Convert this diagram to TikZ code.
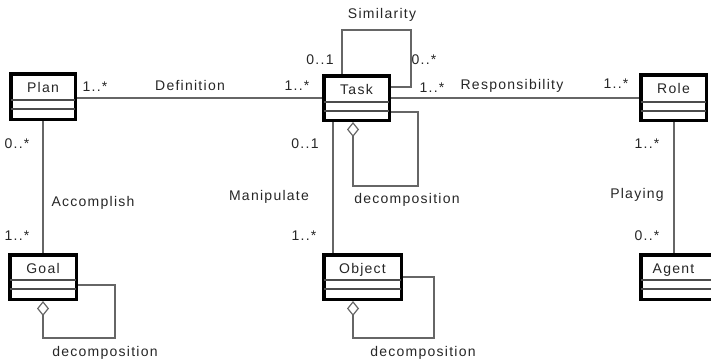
\documentclass[tikz,border=0pt]{standalone}
\usepackage{fontspec}
\setmainfont{Liberation Sans}[LetterSpace=9]
\usetikzlibrary{arrows.meta,calc}
\tikzset{
  cls/.style={draw=black, line width=3.5pt, fill=white, inner sep=0pt, outer sep=1.75pt},
  lnk/.style={draw=black!60, line width=1.3pt},
  div/.style={draw=black!70, line width=1.2pt, shorten >=1.75pt, shorten <=1.75pt},
  lbl/.style={inner sep=0pt, text height=10pt, text depth=0pt, text=black!85, font=\fontsize{14}{16}\selectfont},
  agg/.style={{Diamond[open,length=15pt,width=12pt,line width=1.2pt]}-},
}
\newcommand\umldiv[2]{%
  \draw[div] ($(#1.north west)+(0,#2)$) -- ($(#1.north east)+(0,#2)$);}
\begin{document}
\begin{tikzpicture}[x=1pt,y=-1pt]
\useasboundingbox (0,0) rectangle (711,361);
% classes
\node[cls, minimum width=64.5pt, minimum height=45.5pt] (plan) at (43,96.5) {};
\node[cls, minimum width=65.5pt, minimum height=44.5pt] (task) at (356.5,98) {};
\node[cls, minimum width=65.5pt, minimum height=45.5pt] (role) at (673.5,97.5) {};
\node[cls, minimum width=66.5pt, minimum height=44.5pt] (goal) at (43,277) {};
\node[cls, minimum width=77.5pt, minimum height=44.5pt] (object) at (362.5,277) {};
\node[cls, minimum width=73.5pt, minimum height=44.5pt] (agent) at (677.5,277) {};
\foreach \n/\a/\b in {plan/28/37, task/28/37, role/29/38, goal/27/36, object/27/36, agent/27/36}{
  \umldiv{\n}{\a}\umldiv{\n}{\b}}
\node[lbl] (plan-t) at ($(plan.north)+(0,15.5)$) {Plan};
\node[lbl] (task-t) at ($(task.north)+(0,15.5)$) {Task};
\node[lbl] (role-t) at ($(role.north)+(0,15.5)$) {Role};
\node[lbl] (goal-t) at ($(goal.north)+(0,15)$) {Goal};
\node[lbl] (object-t) at ($(object.north)+(0,15)$) {Object};
\node[lbl] (agent-t) at ($(agent.north)+(-4,15)$) {Agent};
% associations
\draw[lnk] (plan.east |- task.west) -- (task.west);
\draw[lnk] (task.east) -- (role.west |- task.east);
\draw[lnk] (plan.south) -- (goal.north);
\draw[lnk] (task.south -| 333,0) -- (object.north -| 333,0);
\draw[lnk] (role.south -| 674,0) -- (agent.north -| 674,0);
% self loops
\draw[lnk] (task.north -| 342,0) |- (411,30) |- (task.east |- 0,87);
\draw[lnk,agg] (task.south -| 353,0) -- (353,186) -| (418,112) -- (task.east |- 0,112);
\draw[lnk,agg] (goal.south) -- (43,338) -| (115,285) -- (goal.east |- 0,285);
\draw[lnk,agg] (object.south -| 353,0) -- (353,338) -| (434,277) -- (object.east |- 0,277);
% labels
\node[lbl] (l-sim) at (382,14) {Similarity};
\node[lbl] (l-s1) at (320,59) {0..1};
\node[lbl] (l-s2) at (424,59) {0..*};
\node[lbl] (l-s3) at (432,87) {1..*};
\node[lbl] (l-d1) at (95,86) {1..*};
\node[lbl] (l-def) at (190,85) {Definition};
\node[lbl] (l-d2) at (297,85) {1..*};
\node[lbl] (l-resp) at (512,84) {Responsibility};
\node[lbl] (l-r2) at (616,83) {1..*};
\node[lbl] (l-a1) at (17,143) {0..*};
\node[lbl] (l-acc) at (93,201) {Accomplish};
\node[lbl] (l-a2) at (17,235) {1..*};
\node[lbl] (l-m1) at (305,143) {0..1};
\node[lbl] (l-man) at (269,195) {Manipulate};
\node[lbl] (l-m2) at (304,235) {1..*};
\node[lbl] (l-p1) at (647,143) {1..*};
\node[lbl] (l-pl) at (637,193) {Playing};
\node[lbl] (l-p2) at (647,235) {0..*};
\node[lbl] (l-dec1) at (407,198) {decomposition};
\node[lbl] (l-dec2) at (105,351) {decomposition};
\node[lbl] (l-dec3) at (423,351) {decomposition};
\end{tikzpicture}
\end{document}
